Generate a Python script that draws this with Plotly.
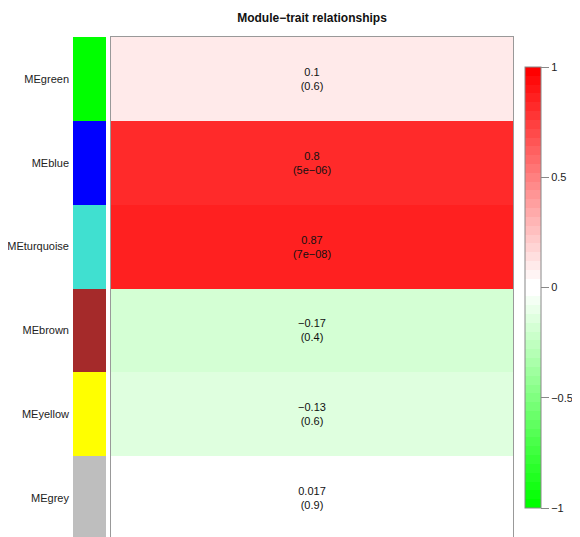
import plotly.graph_objects as go

modules = ["MEgreen", "MEblue", "MEturquoise", "MEbrown", "MEyellow", "MEgrey"]
module_colors = ["#00FF00", "#0000FF", "#40E0D0", "#A52A2A", "#FFFF00", "#BEBEBE"]
cor_values = [0.1, 0.8, 0.87, -0.17, -0.13, 0.017]
cor_labels = ["0.1", "0.8", "0.87", "\u22120.17", "\u22120.13", "0.017"]
p_labels = ["(0.6)", "(5e\u221206)", "(7e\u221208)", "(0.4)", "(0.6)", "(0.9)"]
title_text = "Module\u2212trait relationships"
cbar_ticks = [-1, -0.5, 0, 0.5, 1]
cbar_ticktext = ["\u22121", "\u22120.5", "0", "0.5", "1"]

# the page body adds an 8px offset; size the figure to fill the rest of the window
OFF = 8
FW, FH = 580 - OFF, 537 - OFF
MR = 50
PW = FW - MR
font_family = "Liberation Sans, Arial, sans-serif"


def fx(px):
    return (px - OFF) / PW


def fy(py):
    return 1 - (py - OFF) / FH


n = len(modules)
ypos = list(range(n))

# WGCNA-style greenWhiteRed(50) stepped palette
NC = 50
half = NC // 2
pal = []
for k in range(half):
    t = k / (half - 1)
    v = round(255 * t)
    pal.append(f"rgb({v},255,{v})")
for k in range(half):
    t = 1 - k / (half - 1)
    v = round(255 * t)
    pal.append(f"rgb(255,{v},{v})")
cor_scale = []
for i, c in enumerate(pal):
    cor_scale.append([i / NC, c])
    cor_scale.append([(i + 1) / NC, c])

fig = go.Figure()

# module colour strip
strip_scale = []
for i, c in enumerate(module_colors):
    strip_scale.append([i / n, c])
    strip_scale.append([(i + 1) / n, c])
fig.add_trace(go.Heatmap(
    z=[[i] for i in range(n)], x=[0], y=ypos,
    zmin=-0.5, zmax=n - 0.5,
    colorscale=strip_scale, showscale=False, hoverinfo="skip",
    xaxis="x2", yaxis="y2",
))

# correlation heatmap
texts = [[f"{c}<br>{p}"] for c, p in zip(cor_labels, p_labels)]
fig.add_trace(go.Heatmap(
    z=[[v] for v in cor_values], x=[0], y=ypos,
    zmin=-1, zmax=1,
    colorscale=cor_scale,
    text=texts, texttemplate="%{text}",
    textfont=dict(size=11, color="#111111", family=font_family),
    colorbar=dict(
        x=fx(525), xanchor="left", thickness=16,
        len=(508 - 67) / FH, lenmode="fraction",
        y=fy((67 + 508) / 2), yanchor="middle",
        outlinecolor="#888888", outlinewidth=1,
        tickvals=cbar_ticks, ticktext=cbar_ticktext,
        ticks="outside", ticklen=8, tickcolor="#888888",
        tickfont=dict(size=11, color="#222222", family=font_family),
        xpad=0, ypad=0,
    ),
    xaxis="x", yaxis="y",
))

yrange = [-0.5 + (537 - 37) / 83.8, -0.5]
ydom = [0, fy(37)]

fig.update_layout(
    width=FW, height=FH,
    margin=dict(l=0, r=MR, t=0, b=0, autoexpand=False),
    paper_bgcolor="white", plot_bgcolor="white",
    font=dict(family=font_family, size=11, color="#222222"),
    title=dict(text="<b>" + title_text + "</b>",
               x=(312 - OFF) / FW, xanchor="center", xref="container",
               y=1 - (18 - OFF) / FH, yanchor="middle", yref="container",
               font=dict(size=12, color="#111111", family=font_family)),
    xaxis=dict(domain=[fx(111), fx(513)], showticklabels=False, showgrid=False,
               zeroline=False, showline=True, linecolor="#999999", linewidth=1,
               side="top", range=[-0.5, 0.5]),
    yaxis=dict(domain=ydom, range=yrange, showticklabels=False, showgrid=False,
               zeroline=False, showline=True, mirror=True, linecolor="#999999",
               linewidth=1),
    xaxis2=dict(domain=[fx(73), fx(106)], showticklabels=False, showgrid=False,
                zeroline=False, range=[-0.5, 0.5], anchor="y2"),
    yaxis2=dict(domain=ydom, range=yrange, showgrid=False, zeroline=False,
                tickvals=ypos, ticktext=modules, ticks="",
                ticklabelstandoff=3,
                tickfont=dict(size=11, color="#222222", family=font_family),
                anchor="x2"),
)

fig.write_html("out.html")
